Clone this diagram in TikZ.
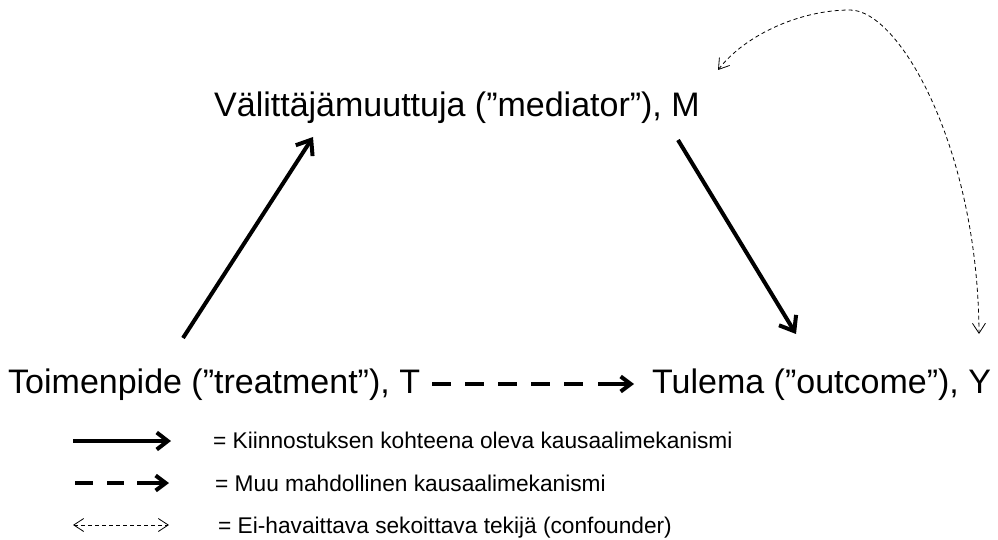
\documentclass[tikz,border=0pt]{standalone}
\usepackage{fontspec}
\setmainfont{Liberation Sans}
\usetikzlibrary{arrows.meta}
\begin{document}
\begin{tikzpicture}[x=1pt,y=-1pt,
  lbl/.style={inner sep=0pt,anchor=base west,font=\fontsize{34}{40}\selectfont},
  leg/.style={inner sep=0pt,anchor=base west,font=\fontsize{22.7}{27}\selectfont},
  thick arrow/.style={line width=4pt,-{Straight Barb[length=13pt,width=20pt,line width=4pt]}},
  thick dash/.style={line width=4pt,dash pattern=on 19pt off 14pt},
  dash arrow/.style={line width=4pt,-{Straight Barb[length=10pt,width=15pt,line width=4pt]}},
  thin conf/.style={line width=0.8pt,dash pattern=on 4pt off 3pt,
    {Straight Barb[length=10pt,width=13pt,line width=0.8pt]}-{Straight Barb[length=10pt,width=13pt,line width=0.8pt]}}
]
\useasboundingbox (0,0) rectangle (998,540);

% main nodes
\node[lbl] (M) at (214,117) {Välittäjämuuttuja (”mediator”), M};
\node[lbl] (T) at (8,393) {Toimenpide (”treatment”), T};
\node[lbl] (Y) at (652,393) {Tulema (”outcome”), Y};

% connector points
\coordinate (Tup) at (183,338);
\coordinate (Mlow) at (313,137);
\coordinate (Mout) at (678,140);
\coordinate (Yin) at (796,334);
\coordinate (Tright) at (432,384);
\coordinate (dEnd) at (586,384);
\coordinate (aStart) at (598,384);
\coordinate (Yleft) at (634,384);
\coordinate (Mconf) at (718,70);
\coordinate (peak) at (850,10);
\coordinate (Yconf) at (979,334);

\draw[thick arrow] (Tup) -- (Mlow);
\draw[thick arrow] (Mout) -- (Yin);
\draw[thick dash] (Tright) -- (dEnd);
\draw[dash arrow] (aStart) -- (Yleft);
\draw[thin conf] (Mconf) .. controls (745,35) and (800,10) .. (peak)
   .. controls (900,10) and (978,150) .. (Yconf);

% legend
\coordinate (l1a) at (73,441);
\coordinate (l1b) at (171,441);
\coordinate (l2a) at (75,483);
\coordinate (l2b) at (124,483);
\coordinate (l2c) at (137,483);
\coordinate (l2d) at (169,483);
\coordinate (l3a) at (73,525);
\coordinate (l3b) at (169,525);

\draw[line width=4pt,-{Straight Barb[length=11pt,width=17pt,line width=4pt]}] (l1a) -- (l1b);
\draw[line width=4pt,dash pattern=on 18pt off 14pt] (l2a) -- (l2b);
\draw[line width=4pt,-{Straight Barb[length=10pt,width=15pt,line width=4pt]}] (l2c) -- (l2d);
\draw[thin conf] (l3a) -- (l3b);

\node[leg] (L1) at (213,448) {= Kiinnostuksen kohteena oleva kausaalimekanismi};
\node[leg] (L2) at (215,491) {= Muu mahdollinen kausaalimekanismi};
\node[leg] (L3) at (218,533) {= Ei-havaittava sekoittava tekijä (confounder)};
\end{tikzpicture}
\end{document}
